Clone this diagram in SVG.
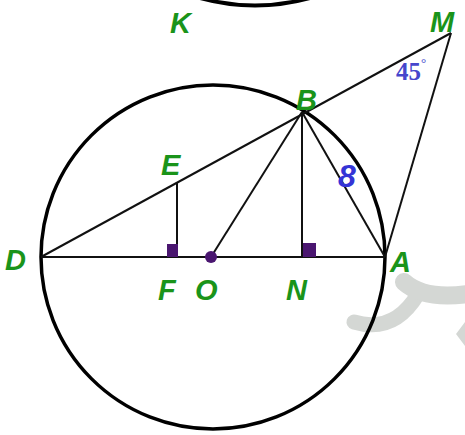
<svg xmlns="http://www.w3.org/2000/svg" width="465" height="435" viewBox="0 0 465 435">
<style>
.lbl{font-family:"Liberation Sans",Arial,sans-serif;font-weight:bold;font-style:italic;font-size:29px;fill:#1a941a}
.ln{stroke:#111;stroke-width:2;fill:none}
.mk{fill:#4a1670}
.wm{fill:none;stroke:#d4d7d4;stroke-linecap:round}
</style>
<rect width="465" height="435" fill="#fff"/>
<g id="watermark">
<path class="wm" d="M354,322 Q394,334 418,294" stroke-width="15"/>
<path class="wm" d="M404,282 Q424,300 468,294" stroke-width="18"/>
<path d="M456,334 L465,322 L465,346 Z" fill="#d4d7d4"/>
</g>
<g id="topArc"><path d="M200,-2 Q255,13 310,-2" fill="none" stroke="#000" stroke-width="4"/></g>
<g id="circle"><circle cx="213" cy="257" r="172" fill="none" stroke="#000" stroke-width="3.5"/></g>
<g id="connectors">
<line class="ln" x1="41" y1="257" x2="385" y2="257"/>
<line class="ln" x1="41" y1="257" x2="451" y2="33"/>
<line class="ln" x1="451" y1="33" x2="385" y2="257"/>
<line class="ln" x1="302" y1="112" x2="211" y2="257"/>
<line class="ln" x1="302" y1="112" x2="302" y2="257"/>
<line class="ln" x1="302" y1="112" x2="385" y2="257"/>
<line class="ln" x1="177" y1="182" x2="177" y2="257"/>
</g>
<g id="marks">
<rect class="mk" x="167" y="244" width="11" height="13"/>
<rect class="mk" x="303" y="243" width="13" height="14"/>
<circle class="mk" cx="211" cy="257" r="6"/>
</g>
<g id="K"><text class="lbl" x="170" y="33">K</text></g>
<g id="M"><text class="lbl" x="430" y="32">M</text></g>
<g id="B"><text class="lbl" x="296" y="110">B</text></g>
<g id="E"><text class="lbl" x="161" y="175">E</text></g>
<g id="D"><text class="lbl" x="5" y="270">D</text></g>
<g id="F"><text class="lbl" x="158" y="300">F</text></g>
<g id="O"><text class="lbl" x="195" y="300">O</text></g>
<g id="N"><text class="lbl" x="286" y="300">N</text></g>
<g id="A"><text class="lbl" x="390" y="272">A</text></g>
<g id="len"><text x="338" y="187" font-family="Liberation Sans,Arial,sans-serif" font-style="italic" font-weight="bold" font-size="32" fill="#3434d6">8</text></g>
<g id="angle"><text x="396" y="80" font-family="Liberation Serif,Times New Roman,serif" font-weight="bold" font-size="25" fill="#4646cc">45<tspan dy="-13" font-size="13" font-weight="normal">°</tspan></text></g>
</svg>
